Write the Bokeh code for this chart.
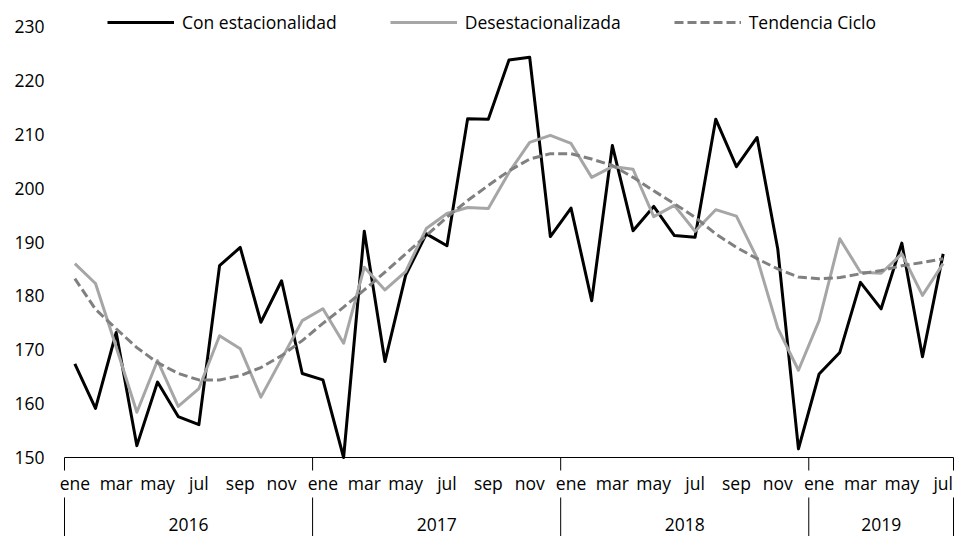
from bokeh.plotting import figure
from bokeh.models import FixedTicker, Range1d, Legend, LegendItem, ColumnDataSource
from bokeh.core.properties import value
from bokeh.embed import file_html
from bokeh.resources import INLINE

months = ["ene", "feb", "mar", "abr", "may", "jun", "jul", "ago", "sep", "oct", "nov", "dic"]
years = ["2016", "2017", "2018", "2019"]
months_per_year = [12, 12, 12, 7]
y_ticks = [150, 160, 170, 180, 190, 200, 210, 220, 230]

con_estacionalidad = [167.4, 159.1, 173.2, 152.2, 164.0, 157.6, 156.1, 185.6, 189.0, 175.1, 182.8, 165.6,
                      164.4, 150.0, 192.0, 167.8, 183.8, 191.5, 189.3, 212.9, 212.8, 223.8, 224.3, 191.0,
                      196.3, 179.1, 207.9, 192.1, 196.6, 191.2, 190.9, 212.8, 204.0, 209.4, 188.7, 151.6,
                      165.5, 169.5, 182.5, 177.6, 189.8, 168.7, 187.8]
desestacionalizada = [186.0, 182.3, 170.5, 158.4, 168.0, 159.5, 162.8, 172.6, 170.2, 161.2, 168.3, 175.4,
                      177.6, 171.2, 185.3, 181.1, 184.5, 192.5, 195.3, 196.4, 196.2, 202.9, 208.5, 209.8,
                      208.3, 202.0, 204.0, 203.5, 194.7, 196.8, 192.0, 196.0, 194.8, 187.0, 174.0, 166.2,
                      175.4, 190.6, 184.4, 184.2, 187.8, 180.1, 186.0]
tendencia_ciclo = [183.2, 177.5, 173.9, 170.4, 167.6, 165.6, 164.4, 164.4, 165.2, 166.7, 168.9, 171.7,
                   174.9, 177.9, 181.1, 184.4, 187.8, 191.2, 194.6, 197.7, 200.5, 203.2, 205.4, 206.4,
                   206.4, 205.4, 204.2, 202.0, 199.5, 197.1, 194.6, 191.5, 189.0, 186.9, 185.0, 183.5,
                   183.2, 183.4, 184.1, 184.7, 185.6, 186.2, 186.9]

FONT = "Open Sans"
FS = "17.5px"

# ---- layout geometry (pixels) ----
W, H = 956, 536
AX_LEFT, AX_RIGHT = 64, 953     # category axis extent
FR_LEFT, FR_RIGHT = 50, 955     # drawing frame extent
Y_TOP_PX, Y_BOT_PX = 26, 457    # pixel rows of 230 and 150
ppu = (Y_BOT_PX - Y_TOP_PX) / (y_ticks[-1] - y_ticks[0])

n = len(con_estacionalidad)
x = list(range(n))
ppx = (AX_RIGHT - AX_LEFT) / n


def y_at(px):
    return y_ticks[0] + (Y_BOT_PX - px) / ppu


x_start = -0.5 - (AX_LEFT - FR_LEFT) / ppx
x_end = n - 0.5 + (FR_RIGHT - AX_RIGHT) / ppx

p = figure(width=W, height=H, output_backend="svg", toolbar_location=None,
           x_range=Range1d(x_start, x_end), y_range=Range1d(y_at(H), y_at(0)),
           x_axis_location=None,
           min_border_left=FR_LEFT, min_border_right=W - FR_RIGHT, min_border_top=0, min_border_bottom=0)
p.grid.visible = False
p.outline_line_color = None
p.background_fill_color = "white"

# y axis
yax = p.yaxis[0]
yax.ticker = FixedTicker(ticks=y_ticks)
yax.axis_line_color = None
yax.major_tick_line_color = None
yax.minor_tick_line_color = None
yax.major_tick_out = 0
yax.major_tick_in = 0
yax.minor_tick_out = 0
yax.minor_tick_in = 0
yax.major_label_standoff = 6
yax.major_label_text_font = FONT
yax.major_label_text_font_size = FS
yax.major_label_text_color = "black"

# separators between years
seps = [-0.5]
acc = -0.5
for c in months_per_year:
    acc += c
    seps.append(acc)

# category axis line
p.segment(x0=[seps[0]], x1=[seps[-1]], y0=[y_ticks[0]], y1=[y_ticks[0]], line_color="black", line_width=1)

sep_src = ColumnDataSource(dict(x=seps,
                                ya0=[y_at(Y_BOT_PX)] * len(seps), ya1=[y_at(470)] * len(seps),
                                yb0=[y_at(497)] * len(seps), yb1=[y_at(H + 2)] * len(seps)))
p.segment(x0="x", x1="x", y0="ya0", y1="ya1", source=sep_src, line_color="black", line_width=1)
p.segment(x0="x", x1="x", y0="yb0", y1="yb1", source=sep_src, line_color="black", line_width=1)

# month labels (every second month)
mticks = [i for i in range(n) if i % 2 == 0]
msrc = ColumnDataSource(dict(x=mticks, y=[y_at(482)] * len(mticks), t=[months[i % 12] for i in mticks]))
p.text(x="x", y="y", text="t", source=msrc, text_align="center", text_baseline="middle",
       text_font=value(FONT), text_font_size=value(FS), text_color="black")

# year labels centred in their group
centers = []
start = -0.5
for c in months_per_year:
    centers.append(start + c / 2.0)
    start += c
ysrc = ColumnDataSource(dict(x=centers, y=[y_at(524)] * len(centers), t=years))
p.text(x="x", y="y", text="t", source=ysrc, text_align="center", text_baseline="middle",
       text_font=value(FONT), text_font_size=value(FS), text_color="black")

r1 = p.line(x, con_estacionalidad, line_color="black", line_width=3, line_join="round")
r2 = p.line(x, desestacionalizada, line_color="#A6A6A6", line_width=3, line_join="round")
r3 = p.line(x, tendencia_ciclo, line_color="#808080", line_width=3, line_dash="9 4", line_join="round")

legend = Legend(items=[LegendItem(label="Con estacionalidad", renderers=[r1]),
                       LegendItem(label="Desestacionalizada", renderers=[r2]),
                       LegendItem(label="Tendencia Ciclo", renderers=[r3])],
                orientation="horizontal", location=(107 - FR_LEFT, H - 22 - 12),
                glyph_width=67, glyph_height=20, label_height=20, label_standoff=8, spacing=53,
                padding=0, margin=0, border_line_color=None, background_fill_alpha=0,
                label_text_font=FONT, label_text_font_size=FS, label_text_color="black")
p.add_layout(legend, "center")

open("out.html", "w").write(file_html(p, INLINE))
